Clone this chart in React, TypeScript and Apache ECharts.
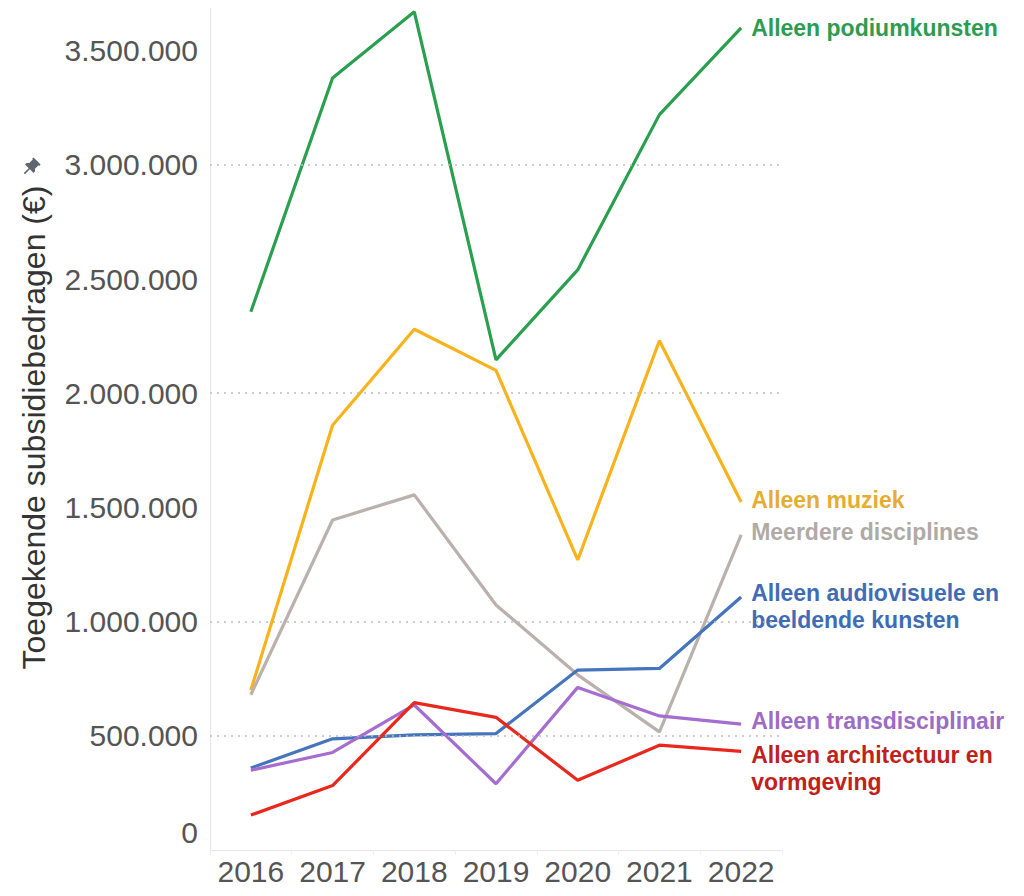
import React, { useEffect, useRef } from "react";
import * as echarts from "echarts";

const years = ["2016", "2017", "2018", "2019", "2020", "2021", "2022"];

const podiumkunsten = [2357000, 3380000, 3670000, 2146000, 2540000, 3220000, 3600000];
const muziek = [700000, 1860000, 2280000, 2100000, 1270000, 2230000, 1524000];
const meerdere = [680000, 1445000, 1555000, 1073000, 767000, 517000, 1380000];
const audiovisueel = [359000, 487000, 504000, 510000, 788000, 795000, 1108000];
const transdisciplinair = [349000, 427000, 635000, 290000, 712000, 587000, 551000];
const architectuur = [153000, 282000, 645000, 581000, 305000, 459000, 432000];

const gridValues = [500000, 1000000, 2000000, 3000000];

const seriesDefs = [
  { name: "Alleen podiumkunsten", label: "Alleen podiumkunsten", data: podiumkunsten, color: "#2aa04f", labelColor: "#2e9c50", dy: 0 },
  { name: "Alleen muziek", label: "Alleen muziek", data: muziek, color: "#f8b31c", labelColor: "#e6ad33", dy: -2 },
  { name: "Meerdere disciplines", label: "Meerdere disciplines", data: meerdere, color: "#bab0ac", labelColor: "#b0aaa7", dy: -3 },
  { name: "Alleen audiovisuele en beeldende kunsten", label: "Alleen audiovisuele en\nbeeldende kunsten", data: audiovisueel, color: "#4575bd", labelColor: "#3f6db5", dy: 10 },
  { name: "Alleen transdisciplinair", label: "Alleen transdisciplinair", data: transdisciplinair, color: "#a56dcf", labelColor: "#9d6cc4", dy: -3 },
  { name: "Alleen architectuur en vormgeving", label: "Alleen architectuur en\nvormgeving", data: architectuur, color: "#e8281d", labelColor: "#c0221b", dy: 17 },
];

const fmt = (v: number) => String(Math.round(v)).replace(/\B(?=(\d{3})+(?!\d))/g, ".");

const pinPath = "M16 9V4h1V2H7v2h1v5l-2 2v2h5.2v7h1.6v-7H18v-2l-2-2z";
echarts.graphic.registerShape("pin", echarts.graphic.extendPath(pinPath, {}) as any);

export default function App() {
  const ref = useRef<HTMLDivElement>(null);
  useEffect(() => {
    if (!ref.current) return;
    const chart = echarts.init(ref.current, null, { renderer: "svg" });
    const font = "Liberation Sans, Arial, sans-serif";
    chart.setOption({
      animation: false,
      grid: { left: 210, right: 242, top: 5, bottom: 46, containLabel: false },
      xAxis: {
        type: "category",
        data: years,
        boundaryGap: true,
        axisLine: { show: true, lineStyle: { color: "#e6e6e6", width: 1 } },
        axisTick: { show: true, length: 5, lineStyle: { color: "#eeeeee" } },
        axisLabel: { color: "#555", fontSize: 30, fontFamily: font, margin: 6, interval: 0, hideOverlap: false },
        splitLine: { show: false },
      },
      yAxis: {
        type: "value",
        min: 0,
        max: 3700000,
        interval: 500000,
        name: "Toegekende subsidiebedragen (€)",
        nameLocation: "middle",
        nameGap: 160,
        nameTextStyle: { color: "#333", fontSize: 32, fontFamily: font },
        axisLine: { show: true, lineStyle: { color: "#e6e6e6", width: 1 } },
        axisTick: { show: false },
        splitLine: { show: false },
        axisLabel: {
          color: "#555",
          fontSize: 30,
          fontFamily: font,
          margin: 12,
          showMaxLabel: false,
          formatter: (v: number) => (v === 0 ? "{z|0}" : fmt(v)),
          rich: { z: { fontSize: 30, fontFamily: font, color: "#555", padding: [0, 0, 36, 0] } },
        },
      },
      graphic: [
        {
          type: "pin",
          x: 18,
          y: 156,
          rotation: -Math.PI / 4,
          scaleX: 1,
          scaleY: 1,
          originX: 12,
          originY: 12,
          style: { fill: "#5f6670" },
        },
      ],
      series: [
        {
          type: "line",
          data: [],
          z: 1,
          silent: true,
          markLine: {
            silent: true,
            symbol: "none",
            label: { show: false },
            lineStyle: { type: [2, 5], color: "#bdbdbd", width: 1.5 },
            data: gridValues.map((v) => ({ yAxis: v })),
          },
        },
        ...seriesDefs.map((s) => ({
          type: "line",
          name: s.name,
          data: s.data,
          z: 3,
          symbol: "none",
          showSymbol: false,
          lineStyle: { color: s.color, width: 3.2 },
          itemStyle: { color: s.color },
          endLabel: {
            show: true,
            formatter: () => s.label,
            color: s.labelColor,
            fontSize: 23,
            fontWeight: "bold",
            fontFamily: font,
            lineHeight: 27,
            distance: 10,
            offset: [0, s.dy],
          },
        })),
      ],
    });
    return () => chart.dispose();
  }, []);
  return <div ref={ref} style={{ width: 1024, height: 896, margin: "-8px 0 0 -8px" }} />;
}
